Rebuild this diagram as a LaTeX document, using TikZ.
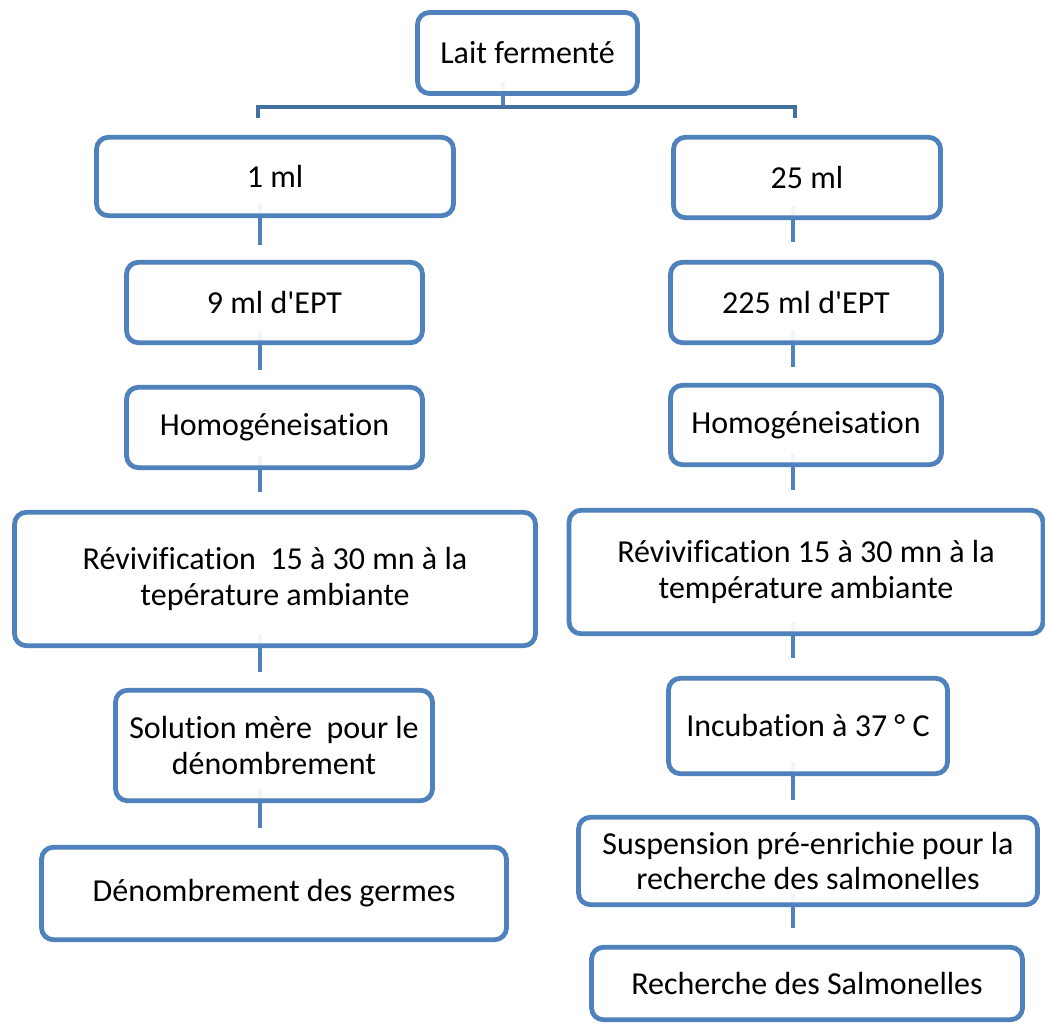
\documentclass[tikz,border=0pt]{standalone}
\usepackage{fontspec}
\setmainfont{Carlito}[Ligatures={TeXOff,NoCommon}]
\usetikzlibrary{backgrounds}
\definecolor{boxblue}{HTML}{4F81BD}
\definecolor{barblue}{HTML}{41719C}
\begin{document}
\begin{tikzpicture}[x=1pt,y=-1pt,
  stepbox/.style={draw=boxblue, line width=4.8pt, rounded corners=12pt,
    fill=white, fill opacity=0.92, text opacity=1, align=center,
    inner sep=0pt, font=\fontsize{32}{35.5}\selectfont},
  link/.style={draw=boxblue, line width=4.8pt},
  bar/.style={draw=barblue, line width=4.8pt}]
\useasboundingbox (0,0) rectangle (1045,1024);

% top box
\node[stepbox, minimum width=220pt, minimum height=81pt] (top) at (527.5,53) {Lait fermenté};

% left branch
\node[stepbox, minimum width=357pt, minimum height=78.5pt] (one) at (275,176.5) {1 ml};
\node[stepbox, minimum width=296pt, minimum height=80.5pt] (eptL) at (274.5,302.5) {9 ml d'EPT};
\node[stepbox, minimum width=296pt, minimum height=80.5pt] (homL) at (274.5,427.5) {Homogéneisation};
\node[stepbox, minimum width=521pt, minimum height=133.5pt] (revL) at (275,579) {Révivification~ 15 à 30 mn à la\\tepérature ambiante};
\node[stepbox, minimum width=317pt, minimum height=110.5pt] (solL) at (274,745.5) {Solution mère~ pour le\\dénombrement};
\node[stepbox, minimum width=465pt, minimum height=92.5pt] (denL) at (274,893.5) {Dénombrement des germes};

% right branch
\node[stepbox, minimum width=267pt, minimum height=80.5pt] (tf) at (807,177.5) {25 ml};
\node[stepbox, minimum width=271pt, minimum height=80.5pt] (eptR) at (806,302.5) {225 ml d'EPT};
\node[stepbox, minimum width=271pt, minimum height=79.5pt] (homR) at (806,425) {Homogéneisation};
\node[stepbox, minimum width=474pt, minimum height=123.5pt] (revR) at (806,572) {Révivification 15 à 30 mn à la\\température ambiante};
\node[stepbox, minimum width=279pt, minimum height=95.5pt] (incR) at (808,726) {Incubation à 37 ° C};
\node[stepbox, minimum width=459pt, minimum height=87.5pt] (susR) at (808,861) {Suspension pré-enrichie pour la\\recherche des salmonelles};
\node[stepbox, minimum width=431pt, minimum height=72.5pt] (rechR) at (807,983.5) {Recherche des Salmonelles};

% free ends of the short connectors
\coordinate (tj) at (503,107);
\coordinate (bl) at (258,118);
\coordinate (br) at (795,118);
\coordinate (l1) at (260,245);
\coordinate (l2) at (260,370);
\coordinate (l3) at (260,492);
\coordinate (l4) at (260,672);
\coordinate (l5) at (260,828);
\coordinate (r1) at (793,242);
\coordinate (r2) at (793,367);
\coordinate (r3) at (793,490);
\coordinate (r4) at (793,658);
\coordinate (r5) at (793,800);
\coordinate (r6) at (793,928);

\begin{scope}[on background layer]
  \draw[link] ([yshift=14pt]top.south -| tj) -- (tj);
  \draw[bar] (bl) -- (bl |- tj) -- (br |- tj) -- (br);
  \draw[link] ([yshift=14pt]one.south -| l1) -- (l1);
  \draw[link] ([yshift=14pt]eptL.south -| l2) -- (l2);
  \draw[link] ([yshift=14pt]homL.south -| l3) -- (l3);
  \draw[link] ([yshift=14pt]revL.south -| l4) -- (l4);
  \draw[link] ([yshift=14pt]solL.south -| l5) -- (l5);
  \draw[link] ([yshift=14pt]tf.south -| r1) -- (r1);
  \draw[link] ([yshift=14pt]eptR.south -| r2) -- (r2);
  \draw[link] ([yshift=14pt]homR.south -| r3) -- (r3);
  \draw[link] ([yshift=14pt]revR.south -| r4) -- (r4);
  \draw[link] ([yshift=14pt]incR.south -| r5) -- (r5);
  \draw[link] ([yshift=14pt]susR.south -| r6) -- (r6);
\end{scope}
\end{tikzpicture}
\end{document}
